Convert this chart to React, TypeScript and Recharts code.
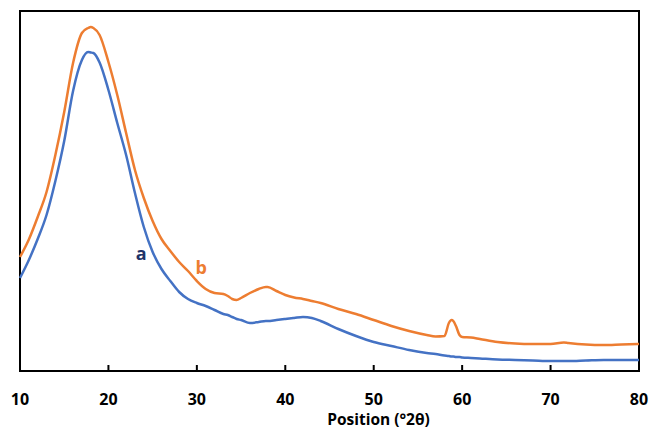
import { LineChart, Line, XAxis, YAxis, ReferenceArea, ReferenceDot } from 'recharts';

const positions = [
  10, 11, 12, 13, 14, 15, 16, 17, 17.7, 18, 18.3, 19, 20, 21, 22, 23, 24, 25, 26, 27, 28, 29, 30,
  31, 32, 33, 33.5, 34, 34.5, 35, 36, 37, 37.8, 38, 39, 40, 41, 42, 43, 44, 46, 48, 50, 52, 54,
  56, 57, 58, 58.5, 58.8, 59, 59.3, 59.7, 60, 61, 62, 64, 66, 68, 70, 71.5, 72, 74, 76, 78, 80,
];

const seriesA = [
  93, 111, 132, 156, 190, 230, 280, 311, 319, 318.5, 318, 308.5, 281, 248, 216, 178, 144, 119, 102, 90, 79, 72, 68,
  65, 61, 57, 56, 54, 52, 51, 48, 49, 50, 50, 51, 52, 53, 54, 53, 50, 42, 35, 29, 25, 21,
  18, 17, 15.5, 15, 14.5, 14.5, 14, 14, 13.5, 13, 12.5, 11.5, 11, 10.5, 10, 10, 10, 10.5, 11, 11, 11,
];

const seriesB = [
  114, 131.5, 154, 179, 216, 259, 308, 338, 343, 344, 343, 336, 309, 276, 238, 201, 173, 150, 132, 120, 109, 100, 90,
  82, 78, 77, 75, 72, 71, 73, 78, 82, 84, 84, 80, 76, 73.5, 72, 70, 68, 62, 57, 51, 45, 40,
  36, 34.5, 35, 48, 51, 50, 45, 36, 34, 33.5, 32, 29, 27.5, 27, 27, 28.5, 28, 26.5, 26, 26.5, 27,
];

const xTicks = [10, 20, 30, 40, 50, 60, 70, 80];

const data = positions.map((p, i) => ({ pos: p, a: seriesA[i], b: seriesB[i] }));

const FONT = '"Open Sans", "Noto Sans", sans-serif';

const Tick = (props: any) => {
  const { x, y, payload } = props;
  const v = payload.value;
  return (
    <g>
      {v !== 10 && v !== 80 && <line x1={x} x2={x} y1={y} y2={y - 6} stroke="#000" strokeWidth={2} />}
      <text x={x} y={y + 34} textAnchor="middle" fontFamily={FONT} fontWeight="bold" fontSize={16} fill="#000">
        {v}
      </text>
    </g>
  );
};

export default function App() {
  return (
    <div style={{ position: 'absolute', left: 0, top: 0, background: '#fff' }}>
      <LineChart width={650} height={431} data={data} margin={{ top: 11, right: 11, bottom: 0, left: 20 }}>
        <XAxis
          dataKey="pos"
          type="number"
          domain={[10, 80]}
          ticks={xTicks}
          axisLine={false}
          tickLine={false}
          tickSize={0}
          tickMargin={0}
          height={60}
          tick={<Tick />}
          label={{
            value: 'Position (°2θ)',
            position: 'insideBottom',
            offset: 6,
            dx: 49,
            style: { fontFamily: FONT, fontWeight: 'bold', fontSize: 15.5, fill: '#000' },
          }}
        />
        <YAxis hide domain={[0, 360]} type="number" />
        <ReferenceArea x1={10} x2={80} y1={0} y2={360} fill="none" stroke="#000" strokeWidth={2} />
        <Line type="monotone" dataKey="a" stroke="#4472C4" strokeWidth={2.5} dot={false} isAnimationActive={false} />
        <Line type="monotone" dataKey="b" stroke="#ED7D31" strokeWidth={2.5} dot={false} isAnimationActive={false} />
        <ReferenceDot
          x={23.7}
          y={117}
          r={0}
          label={{ value: 'a', position: 'center', style: { fontFamily: FONT, fontWeight: 'bold', fontSize: 18, fill: '#1F3469' } }}
        />
        <ReferenceDot
          x={30.5}
          y={103}
          r={0}
          label={{ value: 'b', position: 'center', style: { fontFamily: FONT, fontWeight: 'bold', fontSize: 18, fill: '#ED7D31' } }}
        />
      </LineChart>
    </div>
  );
}
